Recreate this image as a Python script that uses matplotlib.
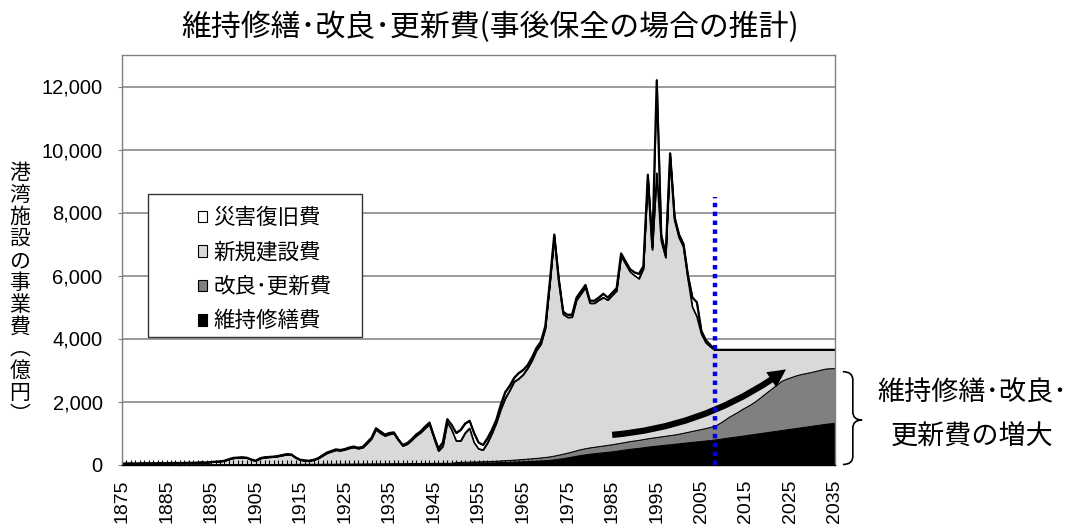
import numpy as np
import matplotlib
matplotlib.use("Agg")
import matplotlib.pyplot as plt
from matplotlib.patches import FancyArrowPatch, Rectangle, PathPatch, Patch
from matplotlib.path import Path
import matplotlib.transforms as mtransforms

plt.rcParams['font.family'] = ['Liberation Sans', 'Noto Sans CJK JP']
JP = ['Noto Sans CJK JP', 'DejaVu Sans']

# ---------------- data (億円) ----------------
years = list(range(1875, 2036))

maintenance = [
    5, 5, 5, 5, 5, 6, 6, 6, 6, 6, 7, 7, 7, 7, 7, 8, 8, 8, 8, 8, 9, 9, 9, 10, 10,
    10, 11, 11, 12, 12, 12, 13, 13, 14, 14, 15, 15, 16, 16, 17, 17, 18, 18, 19, 19, 20, 21, 21, 22, 23,
    24, 25, 26, 27, 28, 29, 30, 31, 32, 33, 34, 35, 36, 37, 38, 39, 40, 41, 42, 43, 44, 45, 46, 47, 48,
    50, 52, 54, 56, 58, 60, 63, 66, 69, 72, 76, 80, 85, 90, 96, 102, 108, 115, 122, 130, 140, 150, 165, 185, 205,
    230, 255, 280, 305, 325, 345, 360, 375, 390, 405, 420, 440, 460, 480, 500, 515, 530, 550, 570, 585, 600, 615, 630, 645, 660,
    675, 690, 705, 720, 735, 750, 765, 780, 795, 815, 835, 855, 875, 895, 915, 935, 955, 975, 995, 1015, 1035, 1055, 1075, 1095, 1115,
    1135, 1155, 1175, 1195, 1215, 1235, 1255, 1275, 1295, 1310, 1330,
]

renewal = [
    2, 2, 2, 2, 2, 2, 2, 2, 2, 2, 2, 2, 2, 2, 2, 2, 2, 2, 2, 2, 2, 2, 2, 2, 2,
    3, 3, 3, 3, 3, 3, 3, 3, 3, 3, 3, 3, 3, 3, 3, 3, 3, 3, 3, 3, 5, 5, 5, 5, 5,
    5, 5, 5, 5, 5, 5, 5, 5, 5, 5, 5, 5, 5, 5, 5, 8, 8, 8, 8, 8, 8, 8, 8, 8, 8,
    30, 32, 34, 36, 38, 40, 42, 44, 46, 48, 55, 58, 62, 66, 70, 75, 80, 85, 90, 95, 100, 110, 120, 130, 140,
    150, 160, 175, 185, 195, 200, 205, 210, 215, 220, 225, 230, 235, 240, 245, 250, 255, 260, 265, 270, 275, 280, 285, 290, 295,
    305, 320, 335, 350, 365, 380, 395, 415, 435, 495, 565, 645, 705, 765, 835, 895, 955, 1025, 1115, 1205, 1295, 1385, 1475, 1565, 1605,
    1635, 1665, 1685, 1695, 1705, 1715, 1730, 1745, 1755, 1748, 1730,
]

new_construction = [
    21, 21, 26, 21, 26, 30, 30, 25, 30, 35, 29, 34, 39, 34, 39, 42, 37, 47, 57, 47, 65, 75, 84, 103, 150,
    187, 196, 206, 190, 137, 99, 174, 204, 213, 223, 240, 270, 296, 286, 190, 122, 103, 93, 120, 168, 250, 334, 384, 428, 412,
    441, 485, 514, 473, 502, 636, 785, 1074, 953, 872, 921, 940, 729, 548, 607, 723, 862, 961, 1100, 1219, 788, 377, 526, 1285, 1044,
    670, 666, 912, 1058, 604, 400, 355, 570, 865, 1200, 1619, 1962, 2203, 2474, 2554, 2673, 2862, 3100, 3408, 3595, 4080, 5460, 6935, 5505, 4425,
    4290, 4265, 4765, 4930, 5100, 4575, 4555, 4635, 4695, 4595, 4725, 4850, 5925, 5650, 5375, 5235, 5115, 5410, 8265, 5965, 8375, 6205, 5655, 8845, 6795,
    6220, 5890, 4860, 3930, 3600, 3020, 2710, 2545, 2410, 2330, 2240, 2140, 2060, 1980, 1890, 1810, 1730, 1640, 1530, 1420, 1310, 1200, 1090, 980, 920,
    870, 820, 780, 750, 720, 690, 655, 620, 590, 582, 580,
]

disaster = [
    2, 2, 2, 2, 2, 2, 2, 2, 2, 2, 2, 2, 2, 2, 2, 3, 3, 3, 3, 3, 4, 4, 5, 5, 8,
    10, 10, 10, 10, 8, 6, 10, 10, 10, 10, 12, 12, 15, 15, 10, 8, 6, 6, 8, 10, 15, 20, 20, 25, 20,
    20, 25, 25, 25, 25, 30, 30, 40, 60, 40, 40, 40, 30, 30, 30, 30, 40, 40, 50, 60, 60, 80, 120, 100, 150,
    250, 350, 300, 240, 300, 200, 160, 150, 120, 100, 150, 200, 150, 120, 180, 150, 100, 100, 80, 80, 80, 80, 80, 80, 80,
    80, 80, 80, 80, 80, 80, 80, 80, 120, 80, 80, 80, 80, 80, 80, 100, 150, 80, 100, 80, 2950, 200, 80, 100, 100,
    100, 100, 100, 300, 450, 100, 80, 60, 0, 0, 0, 0, 0, 0, 0, 0, 0, 0, 0, 0, 0, 0, 0, 0, 0,
    0, 0, 0, 0, 0, 0, 0, 0, 0, 0, 0,
]

series_labels = ['維持修繕費', '改良･更新費', '新規建設費', '災害復旧費']
series_colors = ['#000000', '#808080', '#d9d9d9', '#ffffff']

yticks = [0, 2000, 4000, 6000, 8000, 10000, 12000]
xtick_years = list(range(1875, 2036, 10))
present_year = 2008
present_top = 8500

title = '維持修繕･改良･更新費(事後保全の場合の推計)'
ylabel = '港湾施設の事業費︵億円︶'
note_lines = ['維持修繕･改良･', '更新費の増大']

# ---------------- figure ----------------
fig = plt.figure(figsize=(10.71, 5.25), dpi=100)
ax = fig.add_axes([122 / 1071, 1 - 464.5 / 525, 713 / 1071, 409.5 / 525])
ax.set_xlim(years[0], years[-1])
ax.set_ylim(0, 13000)

for v in yticks[1:]:
    ax.axhline(v, color='#808080', lw=1.1, zorder=0.5)

ax.stackplot(years, maintenance, renewal, new_construction, disaster,
             colors=series_colors, edgecolor='black', linewidth=0.7, zorder=1)
stack = np.cumsum(np.array([maintenance, renewal, new_construction, disaster]), axis=0)
ax.plot(years, stack[2], color='black', lw=1.1, zorder=2)
ax.plot(years, stack[3], color='black', lw=1.6, zorder=2)

# present-year dotted marker
ax.plot([present_year, present_year], [0, present_top], color='#0000dd', lw=3.2,
        linestyle=(0, (1, 1)), dash_capstyle='butt', zorder=7)

# ticks
ax.set_yticks(yticks)
ax.set_yticklabels([f'{v:,}' for v in yticks], fontsize=14.5)
ax.set_xticks(xtick_years)
ax.set_xticklabels([str(y) for y in xtick_years], rotation=90, fontsize=14)
ax.set_xticks(years, minor=True)
ax.tick_params(axis='x', which='both', direction='in', length=3.6, width=0.8,
               color='black', pad=11)
ax.tick_params(axis='y', which='major', direction='out', length=3, width=0.8,
               color='#808080', pad=11)

for s in ['left', 'top', 'right']:
    ax.spines[s].set_color('#808080')
    ax.spines[s].set_linewidth(1)
ax.spines['bottom'].set_color('black')
ax.spines['bottom'].set_linewidth(1)

# legend box + legend
ax.add_patch(Rectangle((0.0369, 0.3121), 0.2993, 0.3485, transform=ax.transAxes,
                       facecolor='white', edgecolor='#333333', lw=1, zorder=5))
handles = [Patch(facecolor=c, edgecolor='black', lw=0.8) for c in series_colors]
leg = ax.legend(handles[::-1], series_labels[::-1], loc='upper left',
                bbox_to_anchor=(0.092, 0.655), frameon=False, borderpad=0,
                handlelength=0.4, handleheight=0.45, handletextpad=0.3,
                labelspacing=0.58, prop={'family': JP, 'size': 15.5})
leg.set_zorder(6)

# curved arrow
arrow = FancyArrowPatch((1985, 940), (2024, 3020), connectionstyle='arc3,rad=0.14',
                        arrowstyle='simple,head_length=1.3,head_width=1.3,tail_width=0.45',
                        mutation_scale=10, color='black', lw=0, shrinkA=0, shrinkB=0, zorder=6)
ax.add_patch(arrow)

# curly brace to the right of the axes
btr = mtransforms.blended_transform_factory(ax.transAxes, ax.transData)
x0, x1, x2 = 1.011, 1.025, 1.038
top, mid, bot, r = 2946, 1413, 0, 260
verts = [(x0, top), (x1, top), (x1, top - r),
         (x1, mid + r),
         (x1, mid), (x2, mid),
         (x1, mid), (x1, mid - r),
         (x1, bot + r),
         (x1, bot), (x0, bot)]
codes = [Path.MOVETO, Path.CURVE3, Path.CURVE3, Path.LINETO,
         Path.CURVE3, Path.CURVE3, Path.CURVE3, Path.CURVE3,
         Path.LINETO, Path.CURVE3, Path.CURVE3]
ax.add_patch(PathPatch(Path(verts, codes), transform=btr, facecolor='none',
                       edgecolor='black', lw=1.2, clip_on=False))

# texts
fig.text(490 / 1071, 1 - 27 / 525, title, ha='center', va='center',
         fontsize=21.5, family=JP)
fig.text(972 / 1071, 1 - 393 / 525, note_lines[0], ha='center', va='center',
         fontsize=19.5, family=JP)
fig.text(972 / 1071, 1 - 437 / 525, note_lines[1], ha='center', va='center',
         fontsize=19.5, family=JP)
for i, ch in enumerate(ylabel):
    fig.text(20 / 1071, 1 - (173 + 22 * i) / 525, ch, ha='center', va='center',
             fontsize=15, family=JP)

fig.savefig('out.png', dpi=100)
